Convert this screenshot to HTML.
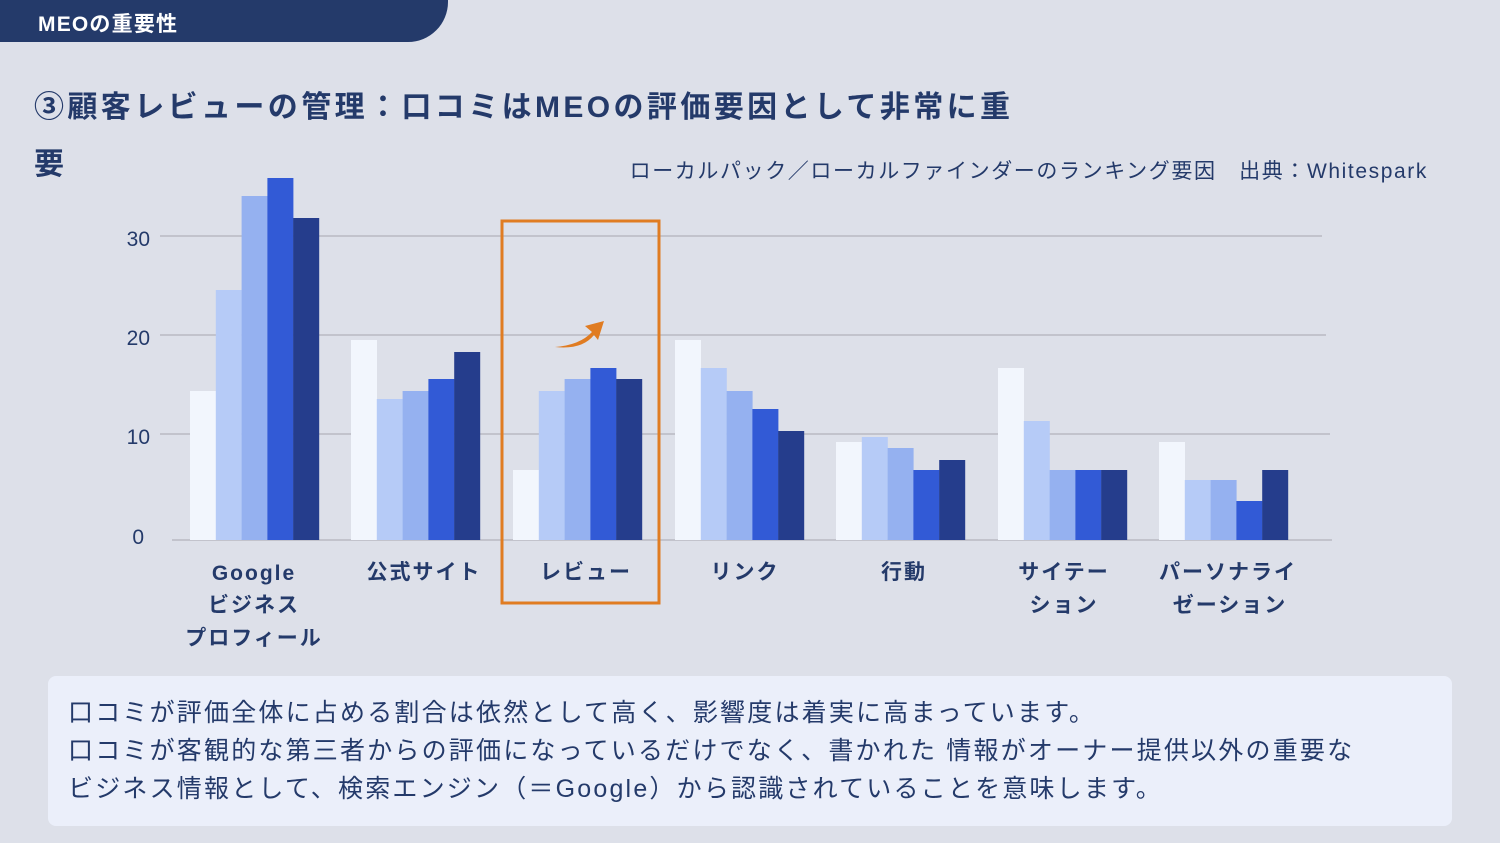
<!DOCTYPE html>
<html><head><meta charset="utf-8"><style>
html,body{margin:0;padding:0}
body{width:1500px;height:843px;background:#dde0e9;overflow:hidden;position:relative;font-family:"Liberation Sans","Noto Sans CJK JP",sans-serif;color:#243a6a}
.hdr{position:absolute;left:0;top:0;width:448px;height:42px;background:#243a6a;border-bottom-right-radius:40px}
.hdr span{position:absolute;left:38px;top:8px;color:#fff;font-weight:bold;font-size:21px;letter-spacing:1.2px}
.title{position:absolute;left:34px;top:79px;width:1000px;font-size:30px;font-weight:bold;line-height:57px;letter-spacing:3.4px}
.box{position:absolute;left:48px;top:676px;width:1404px;height:150px;background:#ebeffa;border-radius:8px}
.box div{position:absolute;left:20px;font-size:25px;white-space:nowrap;letter-spacing:2.2px}
svg{position:absolute;left:0;top:0}
</style></head><body>
<div class="hdr"><span>MEOの重要性</span></div>
<div class="title">③顧客レビューの管理：口コミはMEOの評価要因として非常に重<br>要</div>
<svg width="1500" height="843" font-family="Liberation Sans, Noto Sans CJK JP, sans-serif">
<text x="1428" y="178" text-anchor="end" font-size="21" fill="#243a6a" letter-spacing="1.6">ローカルパック／ローカルファインダーのランキング要因　出典：Whitespark</text>
<g stroke="#b9b9c2" stroke-width="1.5">
<line x1="160" y1="236" x2="1322" y2="236"/>
<line x1="160" y1="335" x2="1326" y2="335"/>
<line x1="160" y1="434" x2="1330" y2="434"/>
<line x1="172" y1="540" x2="1332" y2="540"/>
</g>
<g font-size="21" fill="#243a6a" text-anchor="end">
<text x="150" y="246">30</text><text x="150" y="345">20</text><text x="150" y="444">10</text><text x="144" y="544">0</text>
</g>
<g id="bars"></g>
<rect x="502" y="221" width="157" height="382" fill="none" stroke="#e07c22" stroke-width="3"/>
<path d="M555 347 Q580 345 592 332 L585 326 L604 321 L598 340 L594 335 Q582 350 555 347 Z" fill="#e07c22"/>
<g font-size="21" font-weight="bold" fill="#243a6a" text-anchor="middle" letter-spacing="2">
<text x="254" y="580">Google</text><text x="254" y="612">ビジネス</text><text x="254" y="645">プロフィール</text>
<text x="424" y="579">公式サイト</text>
<text x="586" y="579">レビュー</text>
<text x="745" y="579">リンク</text>
<text x="904" y="579">行動</text>
<text x="1064" y="579">サイテー</text><text x="1064" y="612">ション</text>
<text x="1228" y="579">パーソナライ</text><text x="1230" y="612">ゼーション</text>
</g>
</svg>
<div class="box">
<div style="top:17px">口コミが評価全体に占める割合は依然として高く、影響度は着実に高まっています。</div>
<div style="top:55px">口コミが客観的な第三者からの評価になっているだけでなく、書かれた 情報がオーナー提供以外の重要な</div>
<div style="top:93px">ビジネス情報として、検索エンジン（＝Google）から認識されていることを意味します。</div>
</div>
<script>
var cols=["#f2f6fd","#b6cbf7","#95b1f0","#325ad6","#253d8c"];
var groups=[[190,[391,290,196,178,218]],[351,[340,399,391,379,352]],[513,[470,391,379,368,379]],[675,[340,368,391,409,431]],[836,[442,437,448,470,460]],[998,[368,421,470,470,470]],[1159,[442,480,480,501,470]]];
var s="";groups.forEach(function(g){g[1].forEach(function(t,i){s+='<rect x="'+(g[0]+i*25.8)+'" y="'+t+'" width="26" height="'+(540-t)+'" fill="'+cols[i]+'"/>';});});
document.getElementById("bars").innerHTML=s;
</script>
</body></html>
